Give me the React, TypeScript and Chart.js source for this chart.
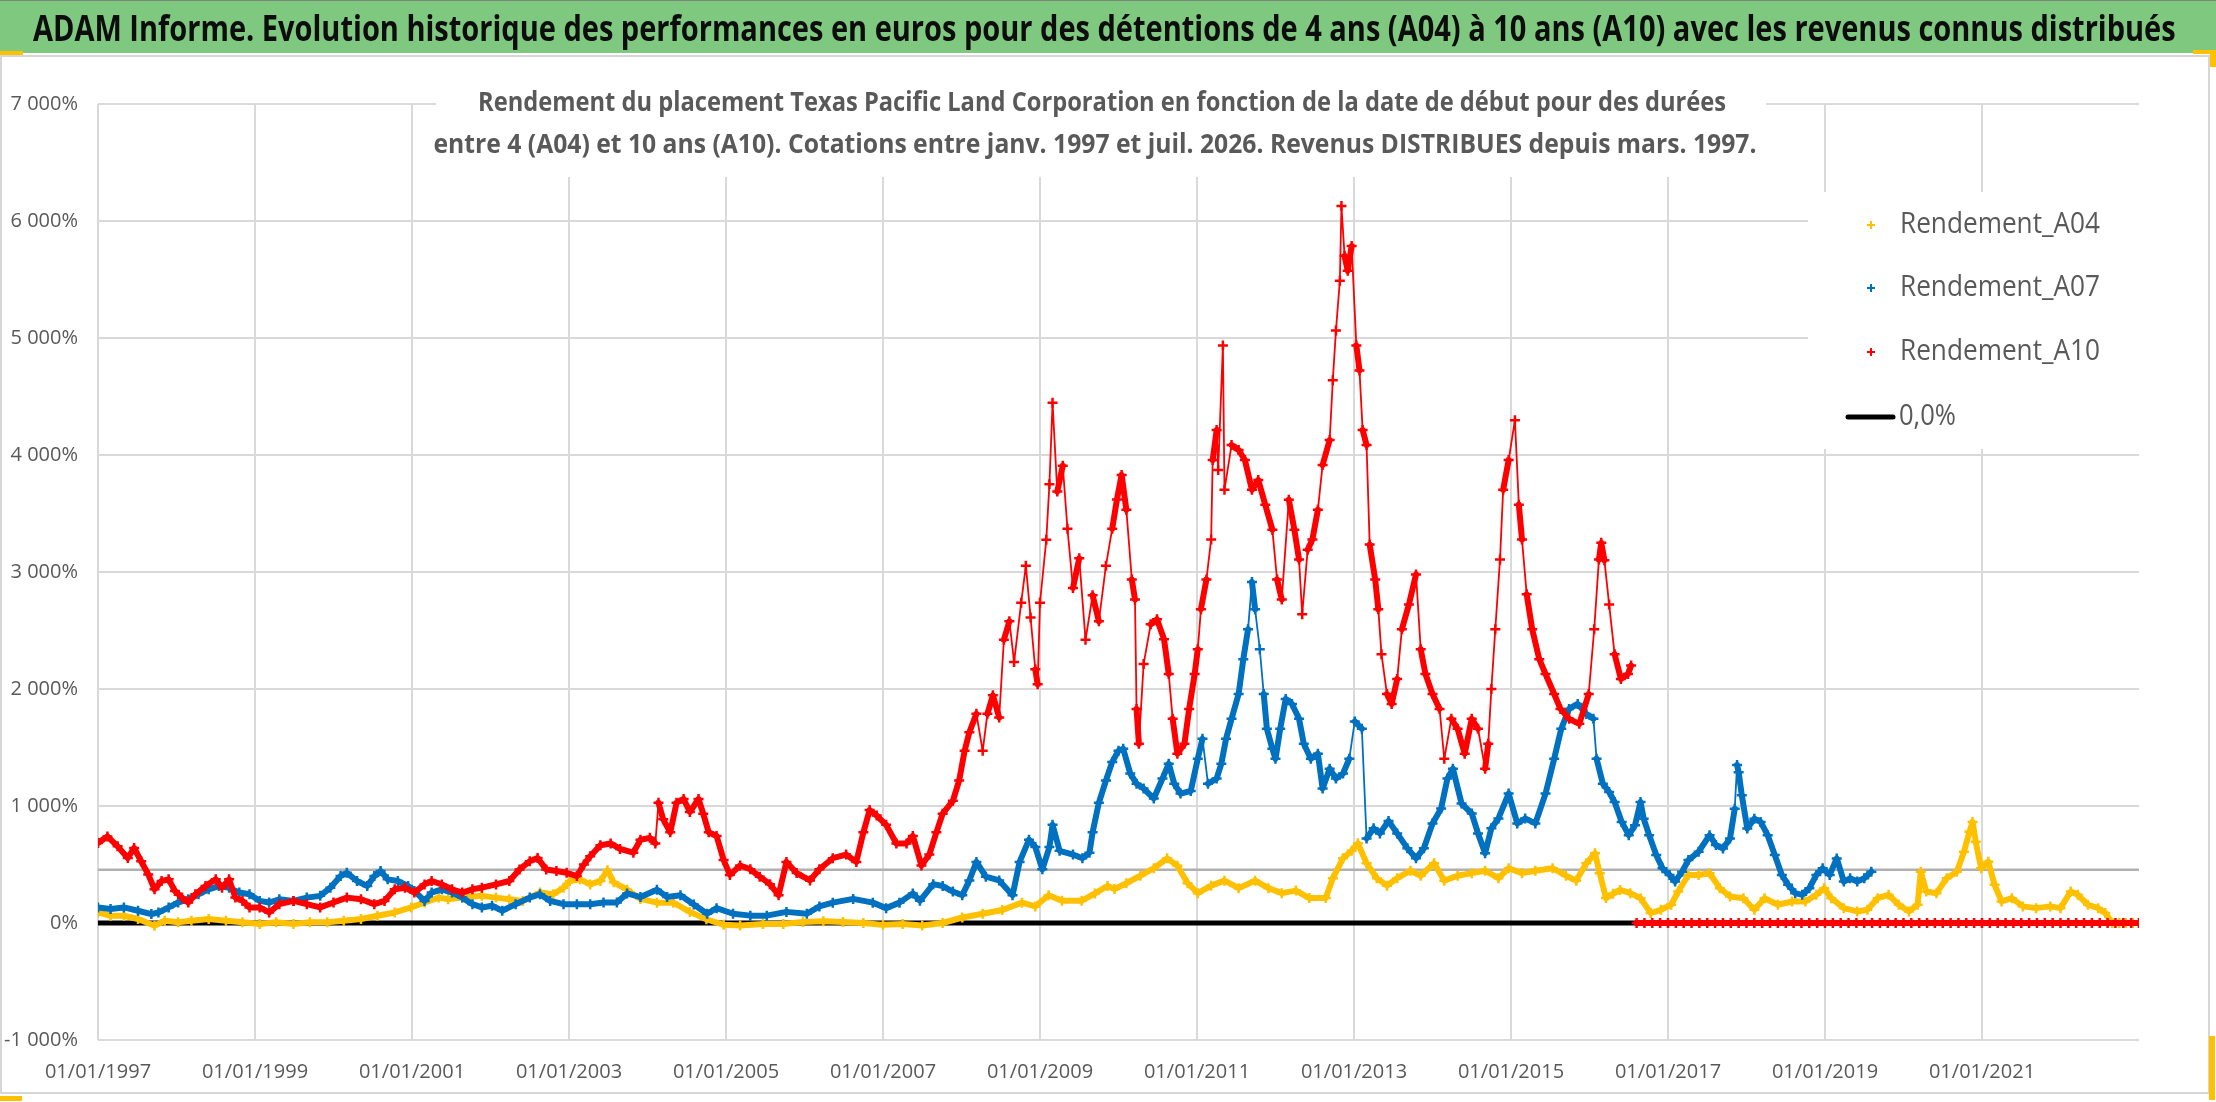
import { useEffect, useRef } from "react";
import { Chart, registerables } from "chart.js";
Chart.register(...registerables);

const bannerTitle =
  "ADAM Informe. Evolution historique des performances en euros pour des détentions de 4 ans (A04) à 10 ans (A10) avec les revenus connus distribués";
const subtitleLines = [
  "Rendement du placement Texas Pacific Land Corporation en fonction de la date de début pour des durées",
  "entre 4 (A04) et 10 ans (A10). Cotations entre janv. 1997 et juil. 2026. Revenus DISTRIBUES depuis mars. 1997.",
];
const seriesNames = ["Rendement_A04", "Rendement_A07", "Rendement_A10", "0,0%"];
const seriesColors = ["#FFC000", "#0070C0", "#FF0000", "#000000"];

// x axis: dates as decimal years, labelled 01/01/yyyy
const xTickYears = [1997, 1999, 2001, 2003, 2005, 2007, 2009, 2011, 2013, 2015, 2017, 2019, 2021];
const xMin = 1997;
const xMax = 2023;
const yTicks = [-1000, 0, 1000, 2000, 3000, 4000, 5000, 6000, 7000];

// Rendement_A10 (%)
const a10Dates = [
  1997.0, 1997.12, 1997.25, 1997.38, 1997.46, 1997.55, 1997.64, 1997.72, 1997.81, 1997.9, 1997.98,
  1998.07, 1998.15, 1998.24, 1998.37, 1998.5, 1998.58, 1998.67, 1998.75, 1998.84, 1998.93,
  1999.06, 1999.18, 1999.31, 1999.49, 1999.66, 1999.83,
  2000.0, 2000.17, 2000.35, 2000.52, 2000.65, 2000.78, 2000.91,
  2001.03, 2001.16, 2001.25, 2001.38, 2001.51, 2001.64, 2001.77, 2001.89,
  2002.07, 2002.24, 2002.37, 2002.5, 2002.6, 2002.71, 2002.84, 2002.97,
  2003.1, 2003.19, 2003.27, 2003.4, 2003.53, 2003.65, 2003.82, 2003.91,
  2004.03, 2004.1, 2004.14, 2004.2, 2004.29, 2004.37, 2004.46, 2004.54, 2004.65, 2004.71, 2004.78, 2004.88, 2004.97,
  2005.05, 2005.18, 2005.31, 2005.43, 2005.56, 2005.67, 2005.77, 2005.9,
  2006.07, 2006.19, 2006.36, 2006.53, 2006.66, 2006.75, 2006.83, 2006.92,
  2007.04, 2007.17, 2007.3, 2007.38, 2007.49, 2007.59, 2007.68, 2007.76, 2007.89, 2007.97,
  2008.04, 2008.1, 2008.19, 2008.27, 2008.33, 2008.4, 2008.48, 2008.54, 2008.61, 2008.67, 2008.76, 2008.82, 2008.88, 2008.94, 2008.97,
  2009.0, 2009.08, 2009.12, 2009.16, 2009.22, 2009.29, 2009.35, 2009.42, 2009.5, 2009.58, 2009.67, 2009.75, 2009.84, 2009.92, 2009.98,
  2010.04, 2010.1, 2010.17, 2010.21, 2010.23, 2010.26, 2010.32, 2010.41, 2010.49, 2010.58, 2010.64, 2010.69, 2010.75, 2010.84, 2010.9, 2010.97,
  2011.01, 2011.05, 2011.12, 2011.18, 2011.2, 2011.25, 2011.27, 2011.33, 2011.35, 2011.44, 2011.53, 2011.61, 2011.7, 2011.78, 2011.87, 2011.96,
  2012.02, 2012.08, 2012.17, 2012.24, 2012.3, 2012.34, 2012.41, 2012.47, 2012.54, 2012.6, 2012.69, 2012.73, 2012.77, 2012.82, 2012.84, 2012.88, 2012.92, 2012.97,
  2013.03, 2013.07, 2013.11, 2013.16, 2013.2, 2013.27, 2013.31, 2013.35, 2013.42, 2013.48, 2013.55, 2013.61, 2013.7, 2013.79, 2013.85, 2013.91,
  2014.0, 2014.09, 2014.15, 2014.24, 2014.32, 2014.41, 2014.5, 2014.58, 2014.67, 2014.71, 2014.75, 2014.8, 2014.86, 2014.9, 2014.97,
  2015.05, 2015.1, 2015.14, 2015.2, 2015.27, 2015.36, 2015.44, 2015.55, 2015.63, 2015.74, 2015.87, 2015.99,
  2016.06, 2016.12, 2016.15, 2016.19, 2016.25, 2016.32, 2016.4, 2016.49, 2016.53,
];
const a10Values = [
  684, 740, 655, 556, 641, 528, 415, 288, 359, 373, 274,
  217, 175, 246, 316, 373, 302, 373, 217, 189, 133,
  133, 90, 161, 189, 161, 133,
  175, 217, 203, 161, 189, 288, 302,
  260, 330, 359, 330, 288, 260, 288, 302,
  330, 359, 458, 528, 556, 458, 444, 429,
  401, 500, 571, 665, 680, 633, 601, 712,
  728, 680, 1028, 886, 775, 1028, 1060, 949, 1060, 934, 775, 744, 538,
  411, 491, 459, 396, 332, 237, 522, 427,
  364, 459, 554, 585, 522, 775, 965, 918,
  839, 680, 680, 744, 491, 585, 775, 934, 1044, 1218,
  1472, 1630, 1788, 1472, 1788, 1946, 1756, 2421, 2579, 2231, 2737, 3054, 2611, 2168, 2041,
  2737, 3275, 3750, 4446, 3687, 3908, 3370, 2864, 3117, 2421, 2801, 2579, 3054, 3370, 3620,
  3830, 3532, 2936, 2766, 1830, 1532, 2213, 2553, 2596, 2426, 2128, 1745, 1447, 1532, 1830, 2128,
  2340, 2681, 2936, 3277, 3957, 4213, 3872, 4936, 3702, 4085, 4043, 3957, 3702, 3787, 3574, 3362,
  2936, 2766, 3617, 3362, 3106, 2638, 3191, 3277, 3532, 3915, 4128, 4638, 5064, 5489, 6128, 5702, 5574, 5787,
  4936, 4723, 4213, 4085, 3234, 2936, 2681, 2298, 1957, 1872, 2085, 2511, 2723, 2979, 2340, 2128,
  1957, 1830, 1404, 1745, 1660, 1447, 1745, 1660, 1319, 1532, 2000, 2511, 3106, 3702, 3957,
  4298, 3574, 3277, 2809, 2511, 2255, 2128, 1957, 1830, 1745, 1702, 1957,
  2511, 3106, 3250, 3100, 2723, 2298, 2085, 2128, 2200,
];
// A10 has no 10-year window after mid-2016: plotted at 0
const a10ZeroDates = [
  2016.6, 2016.7, 2016.8, 2016.9, 2017.0, 2017.1, 2017.2, 2017.3, 2017.4, 2017.5, 2017.6, 2017.7, 2017.8, 2017.9,
  2018.0, 2018.1, 2018.2, 2018.3, 2018.4, 2018.5, 2018.6, 2018.7, 2018.8, 2018.9,
  2019.0, 2019.1, 2019.2, 2019.3, 2019.4, 2019.5, 2019.6, 2019.7, 2019.8, 2019.9,
  2020.0, 2020.1, 2020.2, 2020.3, 2020.4, 2020.5, 2020.6, 2020.7, 2020.8, 2020.9,
  2021.0, 2021.1, 2021.2, 2021.3, 2021.4, 2021.5, 2021.6, 2021.7, 2021.8, 2021.9,
  2022.0, 2022.1, 2022.2, 2022.3, 2022.4, 2022.5, 2022.6, 2022.7, 2022.8, 2022.9, 2023.0,
];
const a10ZeroValues = [
  0, 0, 0, 0, 0, 0, 0, 0, 0, 0, 0, 0, 0, 0,
  0, 0, 0, 0, 0, 0, 0, 0, 0, 0,
  0, 0, 0, 0, 0, 0, 0, 0, 0, 0,
  0, 0, 0, 0, 0, 0, 0, 0, 0, 0,
  0, 0, 0, 0, 0, 0, 0, 0, 0, 0,
  0, 0, 0, 0, 0, 0, 0, 0, 0, 0, 0,
];

// Rendement_A07 (%)
const a07Dates = [
  1997.0, 1997.16, 1997.33, 1997.51, 1997.68, 1997.77, 1997.9,
  1998.02, 1998.15, 1998.28, 1998.41, 1998.54, 1998.67, 1998.8, 1998.93,
  1999.06, 1999.18, 1999.31, 1999.49, 1999.66, 1999.83, 1999.96,
  2000.09, 2000.17, 2000.3, 2000.43, 2000.52, 2000.6, 2000.69, 2000.82, 2000.95,
  2001.03, 2001.16, 2001.25, 2001.38, 2001.51, 2001.64, 2001.77, 2001.89,
  2002.02, 2002.15, 2002.32, 2002.5, 2002.63, 2002.76, 2002.93,
  2003.1, 2003.27, 2003.44, 2003.61, 2003.74, 2003.91,
  2004.12, 2004.25, 2004.42, 2004.59, 2004.76, 2004.88,
  2005.09, 2005.31, 2005.52, 2005.77,
  2006.03, 2006.19, 2006.36, 2006.62, 2006.87,
  2007.04, 2007.21, 2007.38, 2007.47, 2007.64, 2007.76, 2007.89,
  2008.01, 2008.1, 2008.19, 2008.31, 2008.48, 2008.65, 2008.74, 2008.86, 2008.94,
  2009.03, 2009.12, 2009.16, 2009.25, 2009.42, 2009.54, 2009.63, 2009.67, 2009.75, 2009.84, 2009.92,
  2010.0, 2010.06, 2010.15, 2010.23, 2010.32, 2010.45, 2010.56, 2010.64, 2010.71, 2010.79, 2010.92,
  2011.01, 2011.07, 2011.14, 2011.25, 2011.31, 2011.37, 2011.44, 2011.53, 2011.59, 2011.65, 2011.7, 2011.74, 2011.8, 2011.85, 2011.89, 2011.96,
  2012.0, 2012.06, 2012.13, 2012.21, 2012.3, 2012.36, 2012.45, 2012.54, 2012.6, 2012.69, 2012.77, 2012.86, 2012.94,
  2013.01, 2013.1, 2013.16, 2013.25, 2013.33, 2013.44, 2013.55, 2013.68, 2013.79, 2013.89,
  2014.0, 2014.11, 2014.19, 2014.26, 2014.37, 2014.5, 2014.58, 2014.67, 2014.75, 2014.84, 2014.97,
  2015.08, 2015.18, 2015.31, 2015.44, 2015.55, 2015.64, 2015.74, 2015.85, 2015.96,
  2016.05, 2016.09, 2016.17, 2016.25, 2016.32, 2016.41, 2016.5, 2016.58, 2016.65, 2016.69, 2016.76, 2016.85, 2016.93,
  2017.02, 2017.09, 2017.18, 2017.26, 2017.39, 2017.53, 2017.61, 2017.7, 2017.79, 2017.85, 2017.88, 2017.9, 2017.94,
  2018.01, 2018.1, 2018.18, 2018.27, 2018.36, 2018.45, 2018.53, 2018.62, 2018.71, 2018.8, 2018.89, 2018.97,
  2019.06, 2019.15, 2019.24, 2019.32, 2019.41, 2019.5, 2019.59,
];
const a07Values = [
  133, 119, 133, 105, 76, 90, 133,
  175, 203, 246, 288, 316, 302, 260, 246,
  189, 175, 203, 189, 217, 232, 302,
  401, 429, 359, 316, 401, 444, 373, 359, 316,
  274, 189, 260, 288, 260, 217, 161, 133,
  147, 105, 161, 217, 246, 189, 161,
  161, 161, 175, 175, 253, 222,
  285, 222, 237, 158, 79, 127,
  79, 63, 63, 95,
  79, 142, 174, 206, 174,
  127, 174, 253, 190, 332, 316, 269,
  237, 364, 522, 396, 364, 237, 522, 712, 649,
  459, 649, 839, 617, 585, 554, 601, 775, 1028, 1218, 1377,
  1472, 1489, 1277, 1191, 1149, 1064, 1234, 1362, 1191, 1106, 1128,
  1404, 1574, 1191, 1234, 1362, 1574, 1745, 1957, 2255, 2511, 2915, 2681, 2340, 1957, 1660, 1489,
  1404, 1660, 1915, 1872, 1745, 1532, 1404, 1447, 1149, 1319, 1234, 1277, 1404,
  1723, 1660, 723, 809, 766, 872, 766, 638, 553, 638,
  851, 979, 1234, 1319, 1021, 936, 766, 596, 809, 894, 1106,
  851, 894, 851, 1106, 1404, 1660, 1830, 1872, 1787,
  1745, 1404, 1191, 1120, 1034, 864, 751, 836, 1034, 892, 751, 581, 467,
  411, 354, 439, 538, 609, 751, 666, 637, 722, 977, 1350, 1289, 1091,
  807, 892, 864, 751, 581, 411, 326, 255, 241, 297, 411, 467,
  411, 552, 354, 382, 354, 382, 439,
];

// Rendement_A04 (%)
const a04Dates = [
  1997.0, 1997.16, 1997.33, 1997.51, 1997.72, 1997.85,
  1998.02, 1998.19, 1998.41, 1998.63, 1998.84,
  1999.06, 1999.27, 1999.49, 1999.7, 1999.92,
  2000.13, 2000.35, 2000.56, 2000.78, 2000.99,
  2001.16, 2001.34, 2001.46, 2001.64, 2001.89,
  2002.07, 2002.24, 2002.41, 2002.63, 2002.8, 2002.93,
  2003.01, 2003.14, 2003.27, 2003.4, 2003.49, 2003.57, 2003.74, 2003.91,
  2004.12, 2004.33, 2004.54, 2004.75, 2004.97,
  2005.18, 2005.47, 2005.73, 2005.98,
  2006.24, 2006.49, 2006.75,
  2007.0, 2007.25, 2007.5, 2007.76,
  2008.01, 2008.27, 2008.52, 2008.77, 2008.94,
  2009.11, 2009.28, 2009.53, 2009.7, 2009.86, 2009.95,
  2010.1, 2010.28, 2010.45, 2010.62, 2010.75, 2010.88,
  2011.01, 2011.18, 2011.35, 2011.53, 2011.74, 2011.91,
  2012.08, 2012.26, 2012.43, 2012.64, 2012.73, 2012.86, 2012.97,
  2013.05, 2013.16, 2013.29, 2013.42, 2013.55, 2013.72, 2013.85,
  2014.02, 2014.15, 2014.32, 2014.5, 2014.67, 2014.84, 2014.97,
  2015.14, 2015.31, 2015.53, 2015.7, 2015.83, 2015.96,
  2016.07, 2016.13, 2016.21, 2016.3, 2016.39, 2016.52, 2016.65, 2016.78, 2016.91,
  2017.04, 2017.13, 2017.26, 2017.39, 2017.53, 2017.66, 2017.79, 2017.96,
  2018.1, 2018.23, 2018.4, 2018.58, 2018.75, 2018.89, 2018.99,
  2019.08, 2019.24, 2019.41, 2019.54, 2019.67, 2019.81, 2019.94,
  2020.07, 2020.18, 2020.22, 2020.29, 2020.42, 2020.55, 2020.68, 2020.77, 2020.84, 2020.88, 2020.92, 2020.99,
  2021.08, 2021.16, 2021.25, 2021.38, 2021.52, 2021.69, 2021.87,
  2022.0, 2022.13, 2022.22, 2022.35, 2022.48, 2022.57, 2022.66, 2022.75, 2022.83, 2022.92, 2023.0,
];
const a04Values = [
  90, 62, 62, 34, -23, 20,
  6, 20, 34, 20, 6,
  -8, 6, -8, 6, 6,
  20, 34, 62, 90, 133,
  175, 217, 203, 217, 232,
  217, 203, 189, 260, 246, 302,
  359, 373, 330, 360, 450, 348, 285, 206,
  174, 174, 95, 32, -16,
  -22, -9, -9, 9,
  16, 9, 0,
  -16, -9, -22, 0,
  47, 79, 111, 174, 142,
  237, 190, 190, 253, 316, 290,
  340, 404, 468, 553, 489, 340,
  255, 319, 362, 298, 362, 298,
  255, 277, 213, 213, 383, 553, 617,
  681, 511, 383, 319, 383, 447, 404,
  511, 362, 404, 426, 447, 383, 468,
  426, 447, 468, 404, 362, 511,
  596, 426, 213, 250, 283, 255, 212, 85, 113,
  156, 269, 411, 411, 425, 297, 227, 212,
  113, 212, 156, 184, 184, 241, 297,
  212, 127, 99, 113, 212, 241, 156,
  99, 156, 439, 269, 255, 382, 439, 609, 779, 864, 694, 467,
  524, 326, 184, 212, 142, 127, 142,
  127, 269, 241, 156, 127, 85, 0, 0, 0, 0, 0,
];

// 0,0% reference line and the grey horizontal level line
const zeroDates = [1997, 2023];
const zeroValues = [0, 0];
const levelDates = [1997, 2023];
const levelValues = [455, 455];

const toPoints = (xs: number[], ys: number[]) => xs.map((x, i) => ({ x, y: ys[i] }));
const fmtPct = (v: number) => String(v).replace(/\B(?=(\d{3})+(?!\d))/g, " ") + "%";

// thick band where the series is calm, thin joins on big jumps (scattered crosses look)
const bandSegment = {
  borderWidth: (ctx: any) => (Math.abs(ctx.p1.y - ctx.p0.y) > 36 ? 1.8 : 6),
};

const fitText = (ctx: CanvasRenderingContext2D, text: string, x: number, y: number, width: number) => {
  const w = ctx.measureText(text).width;
  ctx.save();
  ctx.translate(x, y);
  ctx.scale(width / w, 1);
  ctx.fillText(text, 0, 0);
  ctx.restore();
};

const drawCross = (ctx: CanvasRenderingContext2D, x: number, y: number, r: number, color: string) => {
  ctx.strokeStyle = color;
  ctx.lineWidth = 2;
  ctx.beginPath();
  ctx.moveTo(x - r, y);
  ctx.lineTo(x + r, y);
  ctx.moveTo(x, y - r);
  ctx.lineTo(x, y + r);
  ctx.stroke();
};

const overlayPlugin = {
  id: "overlay",
  afterDraw(chart: Chart) {
    const ctx = chart.ctx;
    ctx.save();
    // subtitle on a white box over the grid
    ctx.fillStyle = "#ffffff";
    ctx.fillRect(436, 86, 1330, 91);
    ctx.fillStyle = "#595959";
    ctx.font = 'bold 26px "Open Sans"';
    ctx.textAlign = "center";
    ctx.textBaseline = "middle";
    fitText(ctx, subtitleLines[0], 1102, 104, 1248);
    fitText(ctx, subtitleLines[1], 1095, 146, 1323);

    // legend box
    ctx.fillStyle = "#ffffff";
    ctx.fillRect(1808, 192, 332, 257);
    const rows = [225, 288, 352, 417];
    ctx.font = '29px "Open Sans"';
    ctx.textAlign = "left";
    for (let i = 0; i < 3; i++) {
      drawCross(ctx, 1871, rows[i], 4, seriesColors[i]);
      ctx.fillStyle = "#595959";
      fitText(ctx, seriesNames[i], 1900, rows[i], 200);
    }
    ctx.strokeStyle = seriesColors[3];
    ctx.lineWidth = 5;
    ctx.lineCap = "round";
    ctx.beginPath();
    ctx.moveTo(1848, rows[3]);
    ctx.lineTo(1893, rows[3]);
    ctx.stroke();
    ctx.fillStyle = "#595959";
    fitText(ctx, seriesNames[3], 1899, rows[3], 57);
    ctx.restore();
  },
};

const App = () => {
  const chartRef = useRef<HTMLCanvasElement>(null);
  const titleRef = useRef<HTMLSpanElement>(null);
  const chartInstance = useRef<Chart | null>(null);

  useEffect(() => {
    document.body.style.margin = "0";
    const fitTitle = () => {
      const el = titleRef.current;
      if (!el) return;
      el.style.transform = `scaleX(${2143 / el.offsetWidth})`;
    };
    fitTitle();

    if (chartInstance.current) {
      chartInstance.current.destroy();
      chartInstance.current = null;
    }

    const marker = (color: string) => ({
      borderColor: color,
      backgroundColor: color,
      pointStyle: "cross" as const,
      pointRadius: 5,
      pointBorderWidth: 2.5,
      showLine: true,
      borderWidth: 6,
      segment: bandSegment,
    });

    chartInstance.current = new Chart(chartRef.current!, {
      type: "scatter",
      data: {
        datasets: [
          {
            label: seriesNames[2] + " (0)",
            data: toPoints(a10ZeroDates, a10ZeroValues),
            ...marker(seriesColors[2]),
          },
          { label: seriesNames[2], data: toPoints(a10Dates, a10Values), ...marker(seriesColors[2]) },
          { label: seriesNames[1], data: toPoints(a07Dates, a07Values), ...marker(seriesColors[1]) },
          { label: seriesNames[0], data: toPoints(a04Dates, a04Values), ...marker(seriesColors[0]) },
          {
            label: "niveau",
            data: toPoints(levelDates, levelValues),
            showLine: true,
            borderColor: "#b0b0b0",
            borderWidth: 2.5,
            pointRadius: 0,
          },
          {
            label: seriesNames[3],
            data: toPoints(zeroDates, zeroValues),
            showLine: true,
            borderColor: seriesColors[3],
            borderWidth: 5,
            borderCapStyle: "round",
            pointRadius: 0,
          },
        ],
      },
      options: {
        responsive: false,
        animation: false,
        events: [],
        layout: { padding: { left: 0, right: 77, top: 104, bottom: 0 } },
        elements: { line: { tension: 0, borderJoinStyle: "round", borderCapStyle: "round" } },
        plugins: {
          legend: { display: false },
          tooltip: { enabled: false },
        },
        scales: {
          x: {
            type: "linear",
            min: xMin,
            max: xMax,
            afterBuildTicks: (scale: any) => {
              scale.ticks = xTickYears.map((v) => ({ value: v }));
            },
            afterFit: (scale: any) => {
              scale.height = 62;
            },
            ticks: {
              callback: (v: any) => `01/01/${v}`,
              color: "#595959",
              font: { family: "Open Sans", size: 20 },
              padding: 20,
              maxRotation: 0,
              autoSkip: false,
            },
            grid: { color: "#d9d9d9", lineWidth: 2, drawTicks: false },
            border: { display: false },
          },
          y: {
            min: yTicks[0],
            max: yTicks[yTicks.length - 1],
            afterBuildTicks: (scale: any) => {
              scale.ticks = yTicks.map((v) => ({ value: v }));
            },
            afterFit: (scale: any) => {
              scale.width = 98;
            },
            ticks: {
              callback: (v: any) => fmtPct(Number(v)),
              color: "#595959",
              font: { family: "Open Sans", size: 20 },
              padding: 20,
            },
            grid: { color: "#d9d9d9", lineWidth: 2, drawTicks: false },
            border: { display: false },
          },
        },
      },
      plugins: [overlayPlugin],
    });

    return () => {
      if (chartInstance.current) {
        chartInstance.current.destroy();
        chartInstance.current = null;
      }
    };
  }, []);

  return (
    <div
      style={{
        position: "relative",
        width: 2216,
        height: 1102,
        background: "#ffffff",
        overflow: "hidden",
        fontFamily: '"Open Sans", sans-serif',
      }}
    >
      <div
        style={{
          position: "absolute",
          left: 0,
          top: 55,
          width: 2206,
          height: 1035,
          border: "2px solid #d6d6d6",
        }}
      />
      <canvas
        ref={chartRef}
        width={2216}
        height={1102}
        style={{ position: "absolute", left: 0, top: 0, width: 2216, height: 1102 }}
      />
      <div
        style={{
          position: "absolute",
          left: 0,
          top: 0,
          width: 2216,
          height: 52,
          background: "#7ec87f",
          borderTop: "1px solid #7a8a7a",
        }}
      >
        <span
          ref={titleRef}
          style={{
            position: "absolute",
            left: 33,
            top: 0,
            display: "inline-block",
            whiteSpace: "nowrap",
            lineHeight: "53px",
            fontSize: 35,
            fontWeight: 700,
            color: "#0d0d0d",
            transformOrigin: "left center",
          }}
        >
          {bannerTitle}
        </span>
      </div>
      <div style={{ position: "absolute", left: 0, top: 51, width: 23, height: 4, background: "#ffc000" }} />
      <div style={{ position: "absolute", left: 2193, top: 50, width: 23, height: 4, background: "#ffc000" }} />
      <div style={{ position: "absolute", left: 2210, top: 50, width: 6, height: 17, background: "#ffc000" }} />
      <div style={{ position: "absolute", left: 0, top: 1096, width: 22, height: 5, background: "#ffc000" }} />
      <div style={{ position: "absolute", left: 2209, top: 1036, width: 6, height: 64, background: "#ffc000" }} />
    </div>
  );
};

export default App;
